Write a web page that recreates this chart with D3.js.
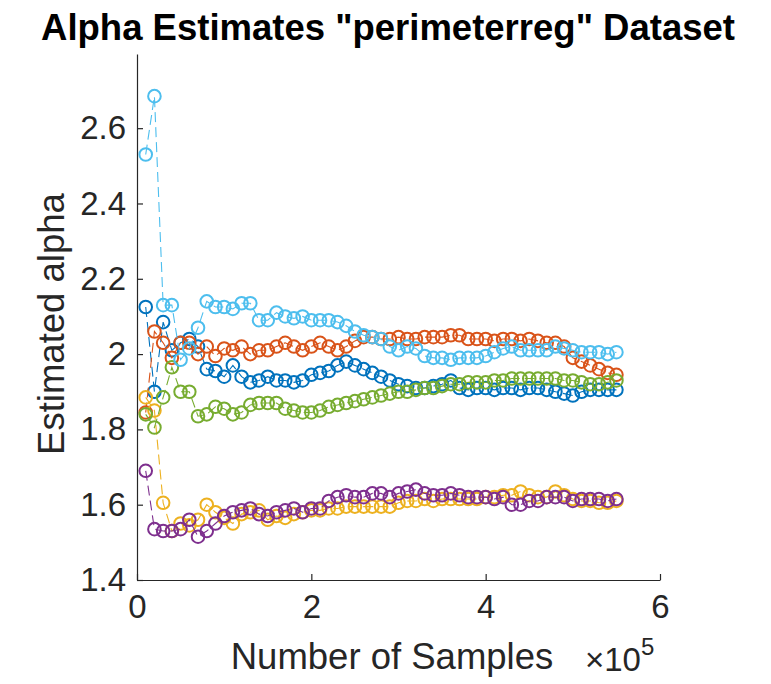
<!DOCTYPE html>
<html>
<head>
<meta charset="utf-8">
<script src="https://cdn.jsdelivr.net/npm/d3@7"></script>
<style>
  body { margin: 0; background: #fff; }
  svg { font-family: "Liberation Sans", Arial, Helvetica, sans-serif; }
</style>
</head>
<body>
<svg id="chart" width="771" height="684"></svg>
<script>
// number of samples (x axis, shown in units of 1e5)
const samples = [
  0.1, 0.2, 0.3, 0.4, 0.5, 0.6, 0.7, 0.8, 0.9, 1.0,
  1.1, 1.2, 1.3, 1.4, 1.5, 1.6, 1.7, 1.8, 1.9, 2.0,
  2.1, 2.2, 2.3, 2.4, 2.5, 2.6, 2.7, 2.8, 2.9, 3.0,
  3.1, 3.2, 3.3, 3.4, 3.5, 3.6, 3.7, 3.8, 3.9, 4.0,
  4.1, 4.2, 4.3, 4.4, 4.5, 4.6, 4.7, 4.8, 4.9, 5.0,
  5.1, 5.2, 5.3, 5.4, 5.5
]

const blue = [
  2.125, 1.90, 2.085, 2.01, 2.03, 2.04, 2.02, 1.96, 1.955, 1.94,
  1.97, 1.94, 1.925, 1.93, 1.94, 1.93, 1.93, 1.925, 1.93, 1.945,
  1.95, 1.955, 1.97, 1.98, 1.97, 1.96, 1.95, 1.94, 1.93, 1.92,
  1.915, 1.91, 1.91, 1.915, 1.92, 1.93, 1.91, 1.905, 1.91, 1.91,
  1.905, 1.91, 1.91, 1.905, 1.91, 1.91, 1.905, 1.90, 1.895, 1.89,
  1.90, 1.905, 1.905, 1.905, 1.905
]
const orange = [
  1.845, 2.06, 2.03, 1.99, 2.03, 2.03, 2.00, 2.02, 1.995, 2.015,
  2.01, 2.02, 2.00, 2.01, 2.01, 2.02, 2.03, 2.02, 2.01, 2.02,
  2.03, 2.02, 2.01, 2.02, 2.035, 2.045, 2.045, 2.04, 2.04, 2.045,
  2.04, 2.04, 2.045, 2.045, 2.045, 2.05, 2.05, 2.04, 2.04, 2.04,
  2.035, 2.04, 2.04, 2.035, 2.04, 2.035, 2.03, 2.03, 2.02, 1.99,
  1.98, 1.97, 1.96, 1.95, 1.945
]
const yellow = [
  1.885, 1.85, 1.605, 1.53, 1.55, 1.545, 1.56, 1.60, 1.58, 1.565,
  1.55, 1.575, 1.58, 1.585, 1.56, 1.57, 1.565, 1.575, 1.58, 1.585,
  1.585, 1.59, 1.59, 1.595, 1.595, 1.595, 1.595, 1.595, 1.595, 1.605,
  1.61, 1.61, 1.615, 1.61, 1.615, 1.615, 1.615, 1.615, 1.615, 1.62,
  1.62, 1.625, 1.625, 1.635, 1.625, 1.62, 1.62, 1.635, 1.625, 1.615,
  1.61, 1.61, 1.605, 1.605, 1.61
]
const purple = [
  1.69, 1.535, 1.53, 1.53, 1.535, 1.56, 1.515, 1.53, 1.55, 1.57,
  1.58, 1.585, 1.59, 1.575, 1.57, 1.58, 1.585, 1.59, 1.58, 1.59,
  1.59, 1.61, 1.62, 1.625, 1.62, 1.62, 1.63, 1.63, 1.62, 1.63,
  1.635, 1.64, 1.63, 1.625, 1.625, 1.63, 1.625, 1.62, 1.62, 1.62,
  1.615, 1.62, 1.60, 1.60, 1.61, 1.61, 1.62, 1.62, 1.62, 1.61,
  1.615, 1.615, 1.615, 1.61, 1.615
]
const green = [
  1.84, 1.805, 1.885, 1.965, 1.90, 1.90, 1.835, 1.84, 1.86, 1.855,
  1.84, 1.845, 1.865, 1.87, 1.87, 1.87, 1.855, 1.85, 1.845, 1.845,
  1.85, 1.86, 1.865, 1.87, 1.875, 1.88, 1.885, 1.89, 1.895, 1.90,
  1.90, 1.905, 1.91, 1.91, 1.915, 1.92, 1.92, 1.925, 1.925, 1.925,
  1.93, 1.93, 1.935, 1.935, 1.935, 1.935, 1.935, 1.935, 1.93, 1.93,
  1.925, 1.92, 1.92, 1.925, 1.93
]
const lightBlue = [
  2.53, 2.685, 2.13, 2.13, 1.985, 2.015, 2.07, 2.14, 2.125, 2.125,
  2.12, 2.135, 2.135, 2.09, 2.09, 2.11, 2.10, 2.095, 2.10, 2.09,
  2.09, 2.09, 2.085, 2.075, 2.06, 2.05, 2.045, 2.04, 2.02, 2.01,
  2.02, 2.015, 1.995, 1.99, 1.99, 1.985, 1.99, 1.99, 1.99, 1.995,
  2.005, 2.015, 2.02, 2.01, 2.01, 2.01, 2.01, 2.02, 2.015, 2.01,
  2.005, 2.005, 2.005, 2.0, 2.005
]

const seriesList = [blue, orange, yellow, purple, green, lightBlue]
const colors = ['#0072BD', '#D95319', '#EDB120', '#7E2F8E', '#77AC30', '#4DBEEE']

const xTicks = [0, 2, 4, 6]
const yTicks = [1.4, 1.6, 1.8, 2.0, 2.2, 2.4, 2.6]

const margin = { top: 54, right: 111, bottom: 104, left: 137 }
const width = 771 - margin.left - margin.right
const height = 684 - margin.top - margin.bottom
const axisColor = '#262626'

const svg = d3.select('#chart')
const g = svg.append('g').attr('transform', `translate(${margin.left},${margin.top})`)

const x = d3.scaleLinear().domain([0, 6]).range([0, width])
const y = d3.scaleLinear().domain([1.4, 2.797]).range([height, 0])

// axes (MATLAB style, ticks pointing inward, no box)
const yAxis = g.append('g')
  .call(d3.axisLeft(y).tickValues(yTicks).tickFormat(d3.format('~g'))
    .tickSizeInner(-6).tickSizeOuter(0).tickPadding(11))
const xAxis = g.append('g')
  .attr('transform', `translate(0,${height})`)
  .call(d3.axisBottom(x).tickValues(xTicks).tickFormat(d3.format('d'))
    .tickSizeInner(-6).tickSizeOuter(0).tickPadding(15))

;[yAxis, xAxis].forEach(ax => {
  ax.select('.domain').attr('stroke', axisColor).attr('stroke-width', 1.2)
  ax.selectAll('.tick line').attr('stroke', axisColor).attr('stroke-width', 1.2)
  ax.selectAll('.tick text')
    .attr('fill', axisColor)
    .style('font-size', '33px')
    .style('font-family', '"Liberation Sans", Arial, sans-serif')
})

// series: dashed line plus open circle markers
const line = d3.line()
  .x((d, i) => x(samples[i]))
  .y(d => y(d))

seriesList.forEach((values, k) => {
  const s = g.append('g')
  s.append('path')
    .datum(values)
    .attr('d', line)
    .attr('fill', 'none')
    .attr('stroke', colors[k])
    .attr('stroke-width', 1.1)
    .attr('stroke-dasharray', '10,5')
  s.selectAll('circle')
    .data(values)
    .enter()
    .append('circle')
    .attr('cx', (d, i) => x(samples[i]))
    .attr('cy', d => y(d))
    .attr('r', 6.3)
    .attr('fill', 'none')
    .attr('stroke', colors[k])
    .attr('stroke-width', 2)
})

// title and labels
svg.append('text')
  .attr('x', 388)
  .attr('y', 40)
  .attr('text-anchor', 'middle')
  .style('font-size', '36.5px')
  .style('font-weight', 'bold')
  .attr('fill', '#000')
  .text('Alpha Estimates "perimeterreg" Dataset')

svg.append('text')
  .attr('transform', 'translate(64,324) rotate(-90)')
  .attr('text-anchor', 'middle')
  .style('font-size', '36.5px')
  .attr('fill', axisColor)
  .text('Estimated alpha')

svg.append('text')
  .attr('x', 392)
  .attr('y', 669)
  .attr('text-anchor', 'middle')
  .style('font-size', '36.5px')
  .attr('fill', axisColor)
  .text('Number of Samples')

const expo = svg.append('text')
  .attr('x', 585)
  .attr('y', 671)
  .style('font-size', '33px')
  .attr('fill', axisColor)
expo.append('tspan').text('\u00d710')
expo.append('tspan')
  .attr('dy', -16)
  .style('font-size', '24px')
  .text('5')
</script>
</body>
</html>
